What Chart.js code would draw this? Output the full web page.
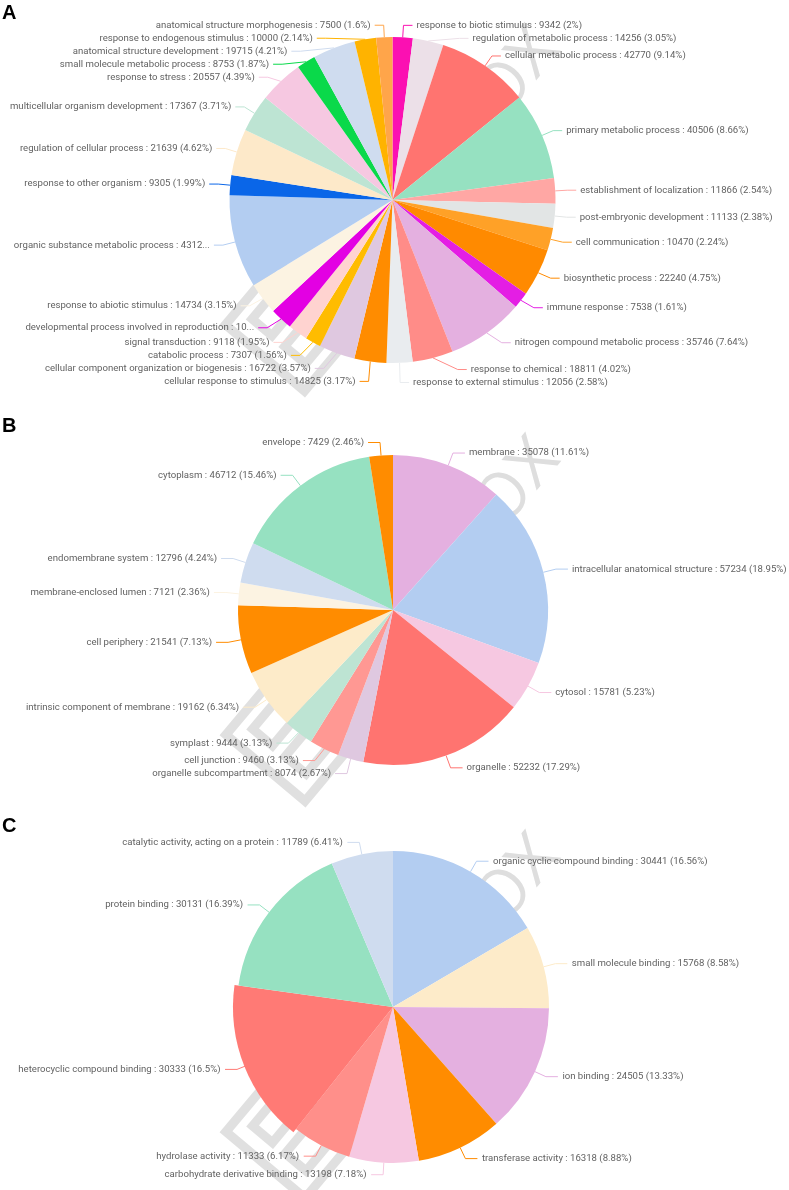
<!DOCTYPE html>
<html>
<head>
<meta charset="utf-8">
<script src="https://cdn.jsdelivr.net/npm/chart.js@4.4.1/dist/chart.umd.min.js"></script>
<style>
  html, body { margin: 0; padding: 0; background: #fff; }
  body { width: 789px; height: 1190px; position: relative; overflow: hidden; }
  .panel { position: absolute; left: 0; width: 789px; }
  .tag { position: absolute; left: 2px; font: bold 20px "Liberation Sans", Arial, sans-serif; color: #000; }
</style>
</head>
<body>
<div class="panel" style="top:0;height:400px"><canvas id="chartA"></canvas></div>
<div class="panel" style="top:410px;height:400px"><canvas id="chartB"></canvas></div>
<div class="panel" style="top:824px;height:366px"><canvas id="chartC"></canvas></div>
<div class="tag" style="top:1px">A</div>
<div class="tag" style="top:414px">B</div>
<div class="tag" style="top:814px">C</div>

<script>
// ---- A: biological process (clockwise from 12 o'clock)
const namesA = [
  'response to biotic stimulus', 'regulation of metabolic process', 'cellular metabolic process',
  'primary metabolic process', 'establishment of localization', 'post-embryonic development',
  'cell communication', 'biosynthetic process', 'immune response',
  'nitrogen compound metabolic process', 'response to chemical', 'response to external stimulus',
  'cellular response to stimulus', 'cellular component organization or biogenesis', 'catabolic process',
  'signal transduction', 'developmental process involved in reproduction', 'response to abiotic stimulus',
  'organic substance metabolic process', 'response to other organism', 'regulation of cellular process',
  'multicellular organism development', 'response to stress', 'small molecule metabolic process',
  'anatomical structure development', 'response to endogenous stimulus', 'anatomical structure morphogenesis'
];
// two values are cut off in the picture ("10...", "4312..."): estimated
const valuesA = [
  9342, 14256, 42770, 40506, 11866, 11133, 10470, 22240, 7538,
  35746, 18811, 12056, 14825, 16722, 7307, 9118, 10490, 14734,
  43125, 9305, 21639, 17367, 20557, 8753, 19715, 10000, 7500
];
const colorsA = [
  '#fb10b2', '#ece0e8', '#ff7470', '#96e1c1', '#ffa7a4', '#e2e5e5', '#ffa127', '#ff8a00', '#e41ee4',
  '#e4b0e0', '#ff8c88', '#e9ecef', '#ff8c00', '#dfc8e0', '#ffbc00', '#ffd3d0', '#e300e3', '#fcf3e2',
  '#b3cdf1', '#0a66e8', '#fde9c9', '#bde4d3', '#f6c8e1', '#0ad94a', '#cfdcef', '#ffb300', '#ffa54a'
];

// ---- B: cellular component
const namesB = [
  'membrane', 'intracellular anatomical structure', 'cytosol', 'organelle', 'organelle subcompartment',
  'cell junction', 'symplast', 'intrinsic component of membrane', 'cell periphery',
  'membrane-enclosed lumen', 'endomembrane system', 'cytoplasm', 'envelope'
];
const valuesB = [35078, 57234, 15781, 52232, 8074, 9460, 9444, 19162, 21541, 7121, 12796, 46712, 7429];
const colorsB = [
  '#e4b0e0', '#b3cdf1', '#f6c8e1', '#ff7470', '#dfc8e0', '#ff9893', '#bde4d3', '#fdebc9',
  '#ff8c00', '#fcf3e2', '#cfdcef', '#96e1c1', '#ff8c00'
];

// ---- C: molecular function
const namesC = [
  'organic cyclic compound binding', 'small molecule binding', 'ion binding', 'transferase activity',
  'carbohydrate derivative binding', 'hydrolase activity', 'heterocyclic compound binding',
  'protein binding', 'catalytic activity, acting on a protein'
];
const valuesC = [30441, 15768, 24505, 16318, 13198, 11333, 30333, 30131, 11789];
const colorsC = ['#b3cdf1', '#fdebc9', '#e4b0e0', '#ff8c00', '#f6c8e1', '#ff8f8a', '#ff7a75', '#96e1c1', '#cfdcef'];

/**
 * Percentages with 2 decimals that add up to 100 (largest remainder).
 * @param {number[]} values
 * */
const percentages = function (values) {
  const sum = values.reduce((s, v) => s + v, 0);
  const quota = values.map(v => v / sum * 10000);
  const seats = quota.map(q => Math.floor(q));
  const rest = quota.map((q, i) => q - seats[i]);
  let given = seats.reduce((s, v) => s + v, 0);
  while (given < 10000) {
    let best = 0;
    rest.forEach((r, i) => { if (r > rest[best]) best = i; });
    seats[best]++;
    rest[best] = -1;
    given++;
  }
  return seats.map(s => s / 100);
};

// push labels of one side apart, then put them back on an ellipse (like echarts does)
function shiftSide(list, cx, cy, R, dir, bottom, lineH) {
  if (list.length < 2) return;
  list.sort((a, b) => a.y - b.y);
  let lastPos = 0;
  let adjusted = false;
  list.forEach(it => {
    const delta = (it.y - lineH / 2) - lastPos;
    if (delta < 0) {
      it.y -= delta;
      adjusted = true;
    }
    lastPos = it.y + lineH / 2;
  });
  // squeeze back if the last one fell off the bottom
  let limit = bottom;
  for (let k = list.length - 1; k >= 0; k--) {
    if (list[k].y + lineH / 2 > limit) list[k].y = limit - lineH / 2;
    limit = list[k].y - lineH / 2;
  }
  if (!adjusted) return;

  const semis = [{ list: [], maxY: 0, rB: R }, { list: [], maxY: 0, rB: R }];
  list.forEach(it => {
    const semi = it.y > cy ? semis[1] : semis[0];
    const dy = Math.abs(it.y - cy);
    if (dy >= semi.maxY) {
      const dx = it.x2 - cx;
      semi.rB = Math.abs(dx) < R ? Math.sqrt(dy * dy / (1 - dx * dx / R / R)) : R;
      semi.maxY = dy;
    }
    semi.list.push(it);
  });
  semis.forEach(semi => {
    semi.list.forEach(it => {
      const dy = Math.abs(it.y - cy);
      const k = Math.max(0, 1 - dy * dy / (semi.rB * semi.rB));
      it.x2 = cx + Math.sqrt(k) * R * dir;
    });
  });
}

// cut a label that does not fit, guessing the length from an average char width
function truncate(ctx, txt, room, charW) {
  if (ctx.measureText(txt).width <= room) return txt;
  const content = room - ctx.measureText('...').width;
  let w = 0;
  let n = 0;
  while (n < txt.length && w < content) {
    w += charW;
    n++;
  }
  let cut = txt.slice(0, n);
  if (ctx.measureText(cut).width > content) {
    cut = cut.slice(0, Math.floor(cut.length * content / ctx.measureText(cut).width));
  }
  return cut + '...';
}

const pieLabels = {
  id: 'pieLabels',
  afterDatasetsUpdate(chart, args, opts) {
    // the hovered slice of panel C sits a little further out
    if (opts.emphasis != null) {
      const arc = chart.getDatasetMeta(0).data[opts.emphasis];
      arc.outerRadius += opts.grow;
    }
  },
  afterDatasetsDraw(chart, args, opts) {
    const ctx = chart.ctx;
    const meta = chart.getDatasetMeta(0);
    const ds = chart.data.datasets[0];
    const r = meta.controller.outerRadius;
    const R = r + opts.len1;
    const pcts = percentages(ds.data);
    const cx = meta.data[0].x;
    const cy = meta.data[0].y;

    const items = meta.data.map((arc, i) => {
      const mid = (arc.startAngle + arc.endAngle) / 2;
      const dx = Math.cos(mid);
      const dy = Math.sin(mid);
      return {
        dir: dx < 0 ? -1 : 1,
        x1: cx + r * dx, y1: cy + r * dy,
        x2: cx + R * dx, y: cy + R * dy,
        color: ds.backgroundColor[i],
        text: chart.data.labels[i] + ' : ' + ds.data[i] + ' (' + pcts[i] + '%)'
      };
    });
    const right = items.filter(it => it.dir > 0);
    const left = items.filter(it => it.dir < 0);
    shiftSide(right, cx, cy, R, 1, chart.height, opts.lineH);
    shiftSide(left, cx, cy, R, -1, chart.height, opts.lineH);

    ctx.save();
    ctx.lineWidth = 1;
    items.forEach(it => {
      const x3 = it.x2 + it.dir * opts.len2;
      ctx.strokeStyle = it.color;
      ctx.beginPath();
      ctx.moveTo(it.x1, it.y1);
      ctx.lineTo(it.x2, it.y);
      ctx.lineTo(x3, it.y);
      ctx.stroke();
      it.tx = x3 + it.dir * opts.gap;
    });
    ctx.font = opts.font;
    ctx.fillStyle = opts.color;
    ctx.textBaseline = 'middle';
    items.forEach(it => {
      const room = it.dir < 0 ? it.tx - opts.bleed : chart.width - it.tx + 2;
      ctx.textAlign = it.dir < 0 ? 'right' : 'left';
      ctx.fillText(truncate(ctx, it.text, room, opts.charW), it.tx, it.y);
    });
    ctx.restore();
  }
};

// faint site watermark lying under the pie
const watermark = {
  id: 'watermark',
  beforeDatasetsDraw(chart) {
    const ctx = chart.ctx;
    const arc = chart.getDatasetMeta(0).data[0];
    ctx.save();
    ctx.translate(arc.x, arc.y);
    ctx.rotate(-50 * Math.PI / 180);
    ctx.textAlign = 'center';
    ctx.textBaseline = 'middle';
    ctx.strokeStyle = '#e0e0e0';
    ctx.lineWidth = 9;
    ctx.font = 'bold 150px "Liberation Sans", Arial, sans-serif';
    ctx.strokeText('E', -163, 14);
    ctx.fillStyle = '#dedede';
    ctx.font = '300 88px Roboto, sans-serif';
    ctx.fillText('ox', 179, 11);
    ctx.restore();
  }
};

const makePie = function (canvasId, names, values, colors, radius, padRight, labelOpts) {
  return new Chart(document.getElementById(canvasId), {
    type: 'pie',
    data: {
      labels: names,
      datasets: [{
        data: values,
        backgroundColor: colors,
        borderWidth: 0
      }]
    },
    options: {
      animation: false,
      responsive: true,
      maintainAspectRatio: false,
      events: [],
      radius: radius,
      layout: { padding: { right: padRight } },
      plugins: {
        legend: { display: false },
        tooltip: { enabled: false },
        pieLabels: Object.assign({
          font: '9.6px Roboto, sans-serif',
          color: '#626262',
          lineH: 13,
          bleed: 7.5,
          charW: 4.7,
          grow: 0,
          emphasis: null
        }, labelOpts)
      }
    },
    plugins: [watermark, pieLabels]
  });
};

makePie('chartA', namesA, valuesA, colorsA, 163, 4, { len1: 12, len2: 9, gap: 4 });
makePie('chartB', namesB, valuesB, colorsB, 155, 3, { len1: 13, len2: 12, gap: 4 });
makePie('chartC', namesC, valuesC, colorsC, 156, 3, { len1: 12, len2: 12, gap: 4.5, emphasis: 6, grow: 4 });
</script>
</body>
</html>
